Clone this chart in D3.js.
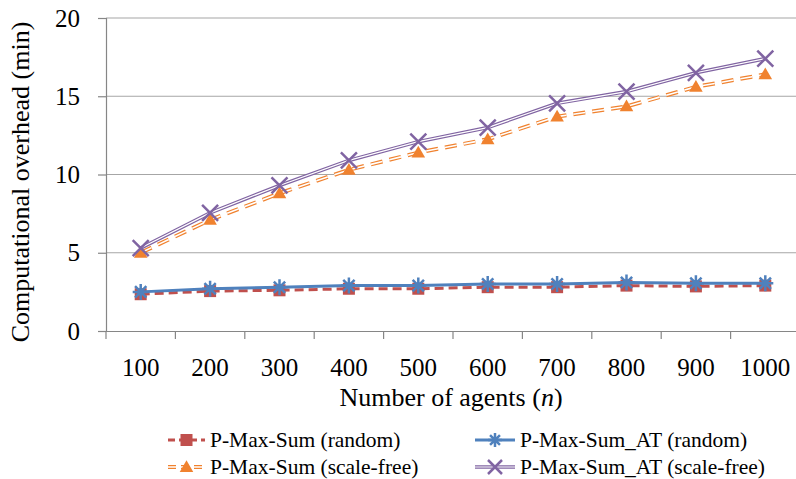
<html>
<head>
<meta charset="utf-8" />
<script src="https://cdn.jsdelivr.net/npm/d3@7/dist/d3.min.js"></script>
<style>
body { margin: 0; background: #fff; }
</style>
</head>
<body>
<script>
var agents = ["100","200","300","400","500","600","700","800","900","1000"];
var yTicks = [0, 5, 10, 15, 20];
var pmsRandom   = [2.35, 2.55, 2.6, 2.7, 2.7, 2.8, 2.8, 2.9, 2.85, 2.9];
var pmsAtRandom = [2.5, 2.7, 2.8, 2.9, 2.9, 3.0, 3.0, 3.1, 3.05, 3.05];
var pmsScale    = [5.0, 7.1, 8.8, 10.3, 11.4, 12.25, 13.7, 14.35, 15.6, 16.4];
var pmsAtScale  = [5.3, 7.55, 9.3, 10.9, 12.1, 13.0, 14.55, 15.3, 16.5, 17.4];

var FONT = "Liberation Serif";
var width = 796, height = 479;
var svg = d3.select("body").append("svg").attr("width", width).attr("height", height)
	.attr("font-family", FONT);

var x = d3.scaleBand().domain(agents).range([106, 800]);
var y = d3.scaleLinear().domain([0, 20]).range([331, 18]);

// gridlines
svg.append("g").selectAll("line").data(yTicks.slice(1)).join("line")
	.attr("x1", 106).attr("x2", 800)
	.attr("y1", d => y(d)).attr("y2", d => y(d))
	.attr("stroke", "#a6a6a6").attr("stroke-width", 1.2);

// y axis
var yAxis = svg.append("g").attr("transform", "translate(106,0)")
	.call(d3.axisLeft(y).tickValues(yTicks).tickSize(8).tickPadding(18));
yAxis.attr("font-family", FONT);
yAxis.select(".domain").attr("stroke", "#868686").attr("stroke-width", 1.2);
yAxis.selectAll(".tick line").attr("stroke", "#868686").attr("stroke-width", 1.2);
yAxis.selectAll("text").attr("font-size", 25).attr("fill", "#000");

// x axis
var xAxis = svg.append("g").attr("transform", "translate(0,331)")
	.call(d3.axisBottom(x).tickSize(0).tickPadding(27));
xAxis.attr("font-family", FONT);
xAxis.select(".domain").attr("stroke", "#868686").attr("stroke-width", 1.2);
xAxis.selectAll("text").attr("font-size", 25).attr("fill", "#000");
svg.append("g").selectAll("line").data(agents).join("line")
	.attr("x1", d => x(d)).attr("x2", d => x(d))
	.attr("y1", 331).attr("y2", 339)
	.attr("stroke", "#868686").attr("stroke-width", 1.2);

// axis titles
svg.append("text").attr("transform", "translate(29,182) rotate(-90)")
	.attr("text-anchor", "middle").attr("font-size", 26).attr("font-family", FONT)
	.text("Computational overhead (min)");
var xt = svg.append("text").attr("x", 451).attr("y", 406)
	.attr("text-anchor", "middle").attr("font-size", 26).attr("font-family", FONT);
xt.append("tspan").text("Number of agents (");
xt.append("tspan").attr("font-style", "italic").text("n");
xt.append("tspan").text(")");

var cx = d => x(d) + x.bandwidth() / 2;
var line = d3.line().x((d, i) => cx(agents[i])).y(d => y(d));

var red = "#c0504d", blue = "#4f81bd", orange = "#f0822f", purple = "#8064a2";

function square(g, px, py, s) {
	g.append("rect").attr("x", px - s / 2).attr("y", py - s / 2)
		.attr("width", s).attr("height", s).attr("fill", red);
}
function star(g, px, py, r) {
	var p = d3.path();
	for (var k = 0; k < 4; k++) {
		var a = k * Math.PI / 4;
		p.moveTo(px - r * Math.cos(a), py - r * Math.sin(a));
		p.lineTo(px + r * Math.cos(a), py + r * Math.sin(a));
	}
	g.append("path").attr("d", p.toString()).attr("stroke", blue).attr("stroke-width", 2.5);
}
function tri(g, px, py, size) {
	g.append("path").attr("d", d3.symbol(d3.symbolTriangle, size)())
		.attr("transform", `translate(${px},${py + 1})`).attr("fill", orange);
}
function cross(g, px, py, r) {
	g.append("path").attr("d", `M${px - r},${py - r}L${px + r},${py + r}M${px - r},${py + r}L${px + r},${py - r}`)
		.attr("stroke", purple).attr("stroke-width", 2.5);
}

// scale-free series
svg.append("path").datum(pmsScale).attr("d", line).attr("fill", "none")
	.attr("stroke", orange).attr("stroke-width", 4).attr("stroke-dasharray", "12,7");
svg.append("path").datum(pmsScale).attr("d", line).attr("fill", "none")
	.attr("stroke", "#fff").attr("stroke-width", 1.6).attr("stroke-dasharray", "12,7");
pmsScale.forEach((v, i) => tri(svg, cx(agents[i]), y(v), 80));

svg.append("path").datum(pmsAtScale).attr("d", line).attr("fill", "none")
	.attr("stroke", purple).attr("stroke-width", 3.6);
svg.append("path").datum(pmsAtScale).attr("d", line).attr("fill", "none")
	.attr("stroke", "#fff").attr("stroke-width", 1.2);
pmsAtScale.forEach((v, i) => cross(svg, cx(agents[i]), y(v), 8));

// random series
svg.append("path").datum(pmsRandom).attr("d", line).attr("fill", "none")
	.attr("stroke", red).attr("stroke-width", 3).attr("stroke-dasharray", "9,5");
pmsRandom.forEach((v, i) => square(svg, cx(agents[i]), y(v), 12));
svg.append("path").datum(pmsAtRandom).attr("d", line).attr("fill", "none")
	.attr("stroke", blue).attr("stroke-width", 3);
pmsAtRandom.forEach((v, i) => star(svg, cx(agents[i]), y(v), 8));

// legend
var legend = [
	{name: "P-Max-Sum (random)", lx: 168, ly: 440, w: 37, kind: "sq"},
	{name: "P-Max-Sum_AT (random)", lx: 475, ly: 440, w: 40, kind: "star"},
	{name: "P-Max-Sum (scale-free)", lx: 168, ly: 467, w: 37, kind: "tri"},
	{name: "P-Max-Sum_AT (scale-free)", lx: 475, ly: 467, w: 40, kind: "cross"}
];
legend.forEach(function(l) {
	var g = svg.append("g");
	var w = l.w;
	var mx = l.lx + w / 2;
	if (l.kind == "sq") {
		g.append("line").attr("x1", l.lx).attr("x2", l.lx + w).attr("y1", l.ly).attr("y2", l.ly)
			.attr("stroke", red).attr("stroke-width", 3).attr("stroke-dasharray", "7,4");
		square(g, mx, l.ly, 12);
	} else if (l.kind == "star") {
		g.append("line").attr("x1", l.lx).attr("x2", l.lx + w).attr("y1", l.ly).attr("y2", l.ly)
			.attr("stroke", blue).attr("stroke-width", 3);
		star(g, mx, l.ly, 7);
	} else if (l.kind == "tri") {
		g.append("line").attr("x1", l.lx).attr("x2", l.lx + w).attr("y1", l.ly).attr("y2", l.ly)
			.attr("stroke", orange).attr("stroke-width", 4).attr("stroke-dasharray", "8,5");
		g.append("line").attr("x1", l.lx).attr("x2", l.lx + w).attr("y1", l.ly).attr("y2", l.ly)
			.attr("stroke", "#fff").attr("stroke-width", 1.6).attr("stroke-dasharray", "8,5");
		tri(g, mx, l.ly, 80);
	} else {
		g.append("line").attr("x1", l.lx).attr("x2", l.lx + w).attr("y1", l.ly).attr("y2", l.ly)
			.attr("stroke", purple).attr("stroke-width", 3.6);
		g.append("line").attr("x1", l.lx).attr("x2", l.lx + w).attr("y1", l.ly).attr("y2", l.ly)
			.attr("stroke", "#fff").attr("stroke-width", 1.2);
		cross(g, mx, l.ly, 7);
	}
	g.append("text").attr("x", l.lx + w + 5).attr("y", l.ly + 7).attr("font-size", 21.5)
		.attr("font-family", FONT).text(l.name);
});
</script>
</body>
</html>
